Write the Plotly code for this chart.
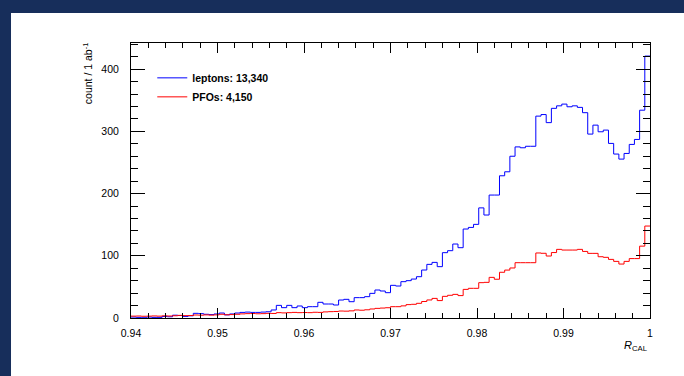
import numpy as np
import plotly.graph_objects as go

# Binning of the R_CAL histograms
BIN_LO, BIN_HI, N_BINS = 0.94, 1.0, 100

# Counts per bin (per 1 ab^-1)
leptons = [
    1.5, 1.0, 0.5, 1.5, 1.0, 1.0, 2.5, 2.0, 4.5, 4.0,
    2.5, 3.5, 7.5, 7.0, 6.0, 5.5, 6.5, 8.0, 5.0, 6.5,
    8.0, 9.0, 9.5, 9.0, 9.0, 9.5, 10.0, 12.9, 20.3, 16.6,
    20.3, 16.6, 19.3, 16.6, 18.2, 18.2, 25.2, 22.5, 22.5, 20.9,
    28.9, 30.0, 26.2, 32.7, 32.7, 34.3, 39.6, 45.0, 43.4, 40.7,
    52.5, 51.4, 58.4, 60.0, 62.6, 66.4, 77.1, 86.2, 89.4, 82.5,
    105.0, 108.2, 118.9, 113.0, 143.0, 145.6, 150.5, 177.0, 165.5, 197.6,
    197.6, 228.6, 235.0, 260.0, 275.0, 273.6, 276.0, 276.0, 324.5, 327.0,
    314.0, 337.0, 341.0, 343.8, 339.5, 341.0, 338.5, 330.0, 295.6, 310.0,
    299.3, 302.0, 280.6, 263.5, 255.4, 264.5, 279.0, 287.0, 334.0, 421.0,
]
pfos = [
    3.0, 3.2, 2.8, 3.0, 3.3, 3.0, 3.5, 3.2, 3.6, 4.2,
    3.8, 4.0, 4.8, 4.5, 5.0, 4.6, 5.0, 6.0, 5.2, 5.5,
    6.0, 6.6, 7.0, 7.2, 6.8, 7.0, 7.5, 7.3, 8.6, 8.2,
    8.6, 9.0, 8.6, 8.8, 8.6, 9.2, 9.0, 9.8, 10.2, 10.5,
    11.2, 11.0, 11.5, 12.9, 12.5, 13.2, 14.5, 15.5, 16.0, 16.5,
    18.2, 18.2, 19.5, 21.5, 22.0, 23.6, 26.5, 29.0, 31.5, 28.0,
    34.8, 36.5, 38.0, 36.0, 46.0, 47.7, 47.7, 56.8, 57.3, 65.3,
    62.3, 73.5, 77.0, 80.4, 88.9, 88.9, 88.9, 88.9, 104.5, 104.0,
    99.6, 105.2, 110.3, 109.2, 109.2, 109.2, 110.3, 107.0, 103.9, 103.9,
    98.5, 97.5, 94.2, 91.0, 86.7, 91.0, 95.5, 95.5, 115.5, 147.8,
]
lepton_total = 13340
pfo_total = 4150

x_tickvals = [0.94, 0.95, 0.96, 0.97, 0.98, 0.99, 1.0]
x_ticktext = ["0.94", "0.95", "0.96", "0.97", "0.98", "0.99", "1"]
y_tickvals = [0, 100, 200, 300, 400]

edges = np.linspace(BIN_LO, BIN_HI, N_BINS + 1)


def step(values):
    # repeat the last content so the final bin is closed at the upper edge
    return list(values) + [values[-1]]


FONT = "Liberation Sans, Arial, Helvetica, sans-serif"
NAVY = "#172e5b"

fig = go.Figure()
fig.add_trace(go.Scatter(
    x=edges, y=step(leptons), mode="lines", line_shape="hv",
    line=dict(color="#0000ff", width=1),
    name=f"leptons: {lepton_total:,}",
))
fig.add_trace(go.Scatter(
    x=edges, y=step(pfos), mode="lines", line_shape="hv",
    line=dict(color="#ff0000", width=1),
    name=f"PFOs: {pfo_total:,}",
))

axis_common = dict(
    showline=True, linecolor="black", linewidth=1, mirror="allticks",
    ticks="inside", tickcolor="black", tickwidth=1,
    showgrid=False, zeroline=False,
    tickfont=dict(family=FONT, size=10.5, color="black"),
)

fig.update_xaxes(
    range=[BIN_LO, BIN_HI], tickvals=x_tickvals, ticktext=x_ticktext,
    ticklen=10, ticklabelstandoff=5,
    minor=dict(dtick=0.002, ticks="inside", ticklen=5, tickcolor="black"),
    **axis_common,
)
fig.update_yaxes(
    range=[0, 442], tickvals=y_tickvals,
    ticklen=14, ticklabelstandoff=9,
    minor=dict(dtick=20, ticks="inside", ticklen=7, tickcolor="black"),
    **axis_common,
)

# white pad on the navy frame
fig.add_shape(type="rect", xref="paper", yref="paper",
              x0=-0.2312, x1=1.2, y0=-0.3, y1=1.1091,
              fillcolor="white", line_width=0, layer="below")

fig.add_annotation(
    text="count / 1 ab<sup>-1</sup>", textangle=-90,
    xref="paper", yref="paper", x=-0.085, y=1.008,
    xanchor="center", yanchor="top", showarrow=False,
    font=dict(family=FONT, size=10.5, color="black"),
)
fig.add_annotation(
    text="<i>R</i><sub>CAL</sub>",
    xref="paper", yref="paper", x=1.0, y=-0.1,
    xanchor="right", yanchor="middle", showarrow=False,
    font=dict(family=FONT, size=11, color="black"),
)

fig.update_layout(
    width=684, height=376,
    margin=dict(l=131, r=34, t=43, b=58),
    paper_bgcolor=NAVY, plot_bgcolor="white",
    showlegend=True,
    legend=dict(
        x=0.041, y=0.926, xanchor="left", yanchor="top",
        bgcolor="rgba(0,0,0,0)", borderwidth=0,
        font=dict(family=FONT, size=10.5, color="black", weight="bold"),
        tracegroupgap=0,
    ),
)

fig.write_html("out.html")
